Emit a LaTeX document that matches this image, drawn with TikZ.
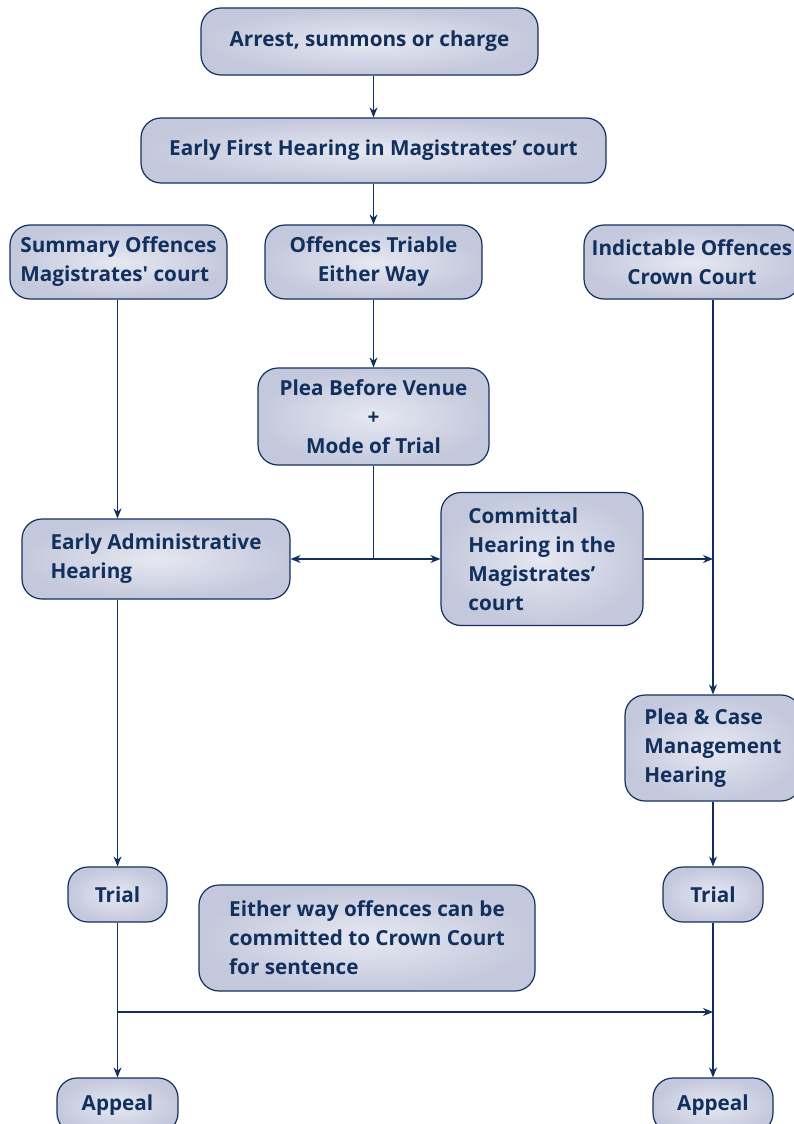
\documentclass[tikz,border=0pt]{standalone}
\usepackage{fontspec}
\setmainfont{Open Sans}
\usetikzlibrary{arrows.meta}

\definecolor{navy}{HTML}{12305E}
\definecolor{boxfill}{HTML}{C3C8DC}
\definecolor{boxglow}{HTML}{E6E8F1}

\tikzset{
  stage/.style={draw=navy, line width=1.2pt, rounded corners=20pt,
    inner color=boxglow, outer color=boxfill, text=navy, inner sep=0pt,
    font=\bfseries\fontsize{20.7}{29}\selectfont},
  flow/.style={draw=navy, line width=1.3pt, -{Stealth[length=10pt,width=8pt]}},
  link/.style={draw=navy, line width=1.3pt},
}

\begin{document}
\begin{tikzpicture}[x=1pt, y=-1pt]
  \useasboundingbox (0,0) rectangle (794,1124);

  % top of the process
  \node[stage, align=center, minimum width=337pt, minimum height=67pt] (arrest) at (369.5,41.5) {Arrest, summons or charge};
  \node[stage, align=center, minimum width=465pt, minimum height=65pt] (efh) at (373.5,150.5) {Early First Hearing in Magistrates’ court};

  % the three kinds of offence
  \node[stage, align=left, minimum width=217pt, minimum height=74pt] (summary) at (118.5,262) {Summary Offences\\Magistrates\textquotesingle{} court};
  \node[stage, align=center, minimum width=217pt, minimum height=74pt] (triable) at (373.5,262) {Offences Triable\\Either Way};
  \node[stage, align=center, minimum width=216pt, minimum height=74pt] (indict) at (692,262) {Indictable Offences\\Crown Court};

  % either-way route
  \node[stage, align=center, minimum width=231pt, minimum height=97pt] (plea) at (373.5,416.5) {Plea Before Venue\\+\\Mode of Trial};
  \node[stage, align=left, minimum width=268pt, minimum height=80pt] (admin) at (156,559) {Early Administrative\\Hearing};
  \node[stage, align=left, minimum width=202pt, minimum height=133pt] (committal) at (542,559) {Committal\\Hearing in the\\Magistrates’\\court};
  \node[stage, align=left, minimum width=176pt, minimum height=106pt] (pcmh) at (713,748) {Plea \& Case\\Management\\Hearing};

  % trials, note and appeals
  \node[stage, align=center, minimum width=99pt, minimum height=55pt] (trialL) at (117.5,894.5) {Trial};
  \node[stage, align=center, minimum width=100pt, minimum height=55pt] (trialR) at (713,894.5) {Trial};
  \node[stage, align=left, minimum width=336pt, minimum height=106pt] (note) at (367,938) {Either way offences can be\\committed to Crown Court\\for sentence};
  \node[stage, align=center, minimum width=121pt, minimum height=55pt] (appealL) at (117.5,1105.5) {Appeal};
  \node[stage, align=center, minimum width=120pt, minimum height=55pt] (appealR) at (713,1105.5) {Appeal};

  % junctions
  \coordinate (split) at (373.5,559);
  \coordinate (fork) at (117.5,1012);

  % connectors
  \draw[flow] (arrest.south -| efh.north) -- (efh.north);
  \draw[flow] (efh.south) -- (triable.north);
  \draw[flow] (triable.south) -- (plea.north);
  \draw[flow] (summary.south -| trialL) -- (admin.north -| trialL);
  \draw[flow] (indict.south -| pcmh) -- (pcmh.north);
  \draw[link] (plea.south) -- (split);
  \draw[flow] (split) -- (admin.east);
  \draw[flow] (split) -- (committal.west);
  \draw[flow] (committal.east) -- (committal.east -| pcmh);
  \draw[flow] (pcmh.south) -- (trialR.north);
  \draw[flow] (admin.south -| trialL) -- (trialL.north);
  \draw[flow] (trialL.south) -- (appealL.north);
  \draw[flow] (trialR.south) -- (appealR.north);
  \draw[flow] (fork) -- (fork -| trialR);
\end{tikzpicture}
\end{document}
